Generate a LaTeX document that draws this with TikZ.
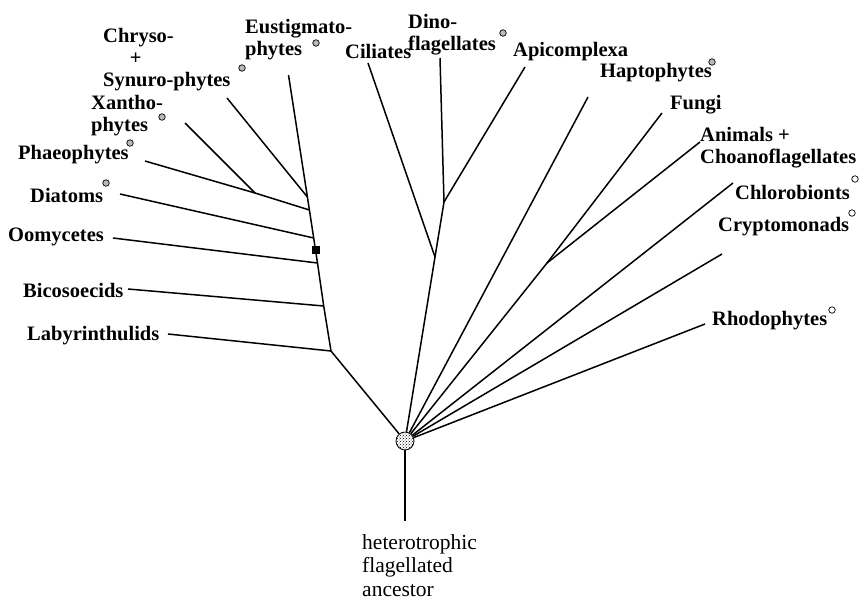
\documentclass[tikz,border=0pt]{standalone}
\usepackage{fontspec}
\setmainfont{Liberation Serif}
\usetikzlibrary{positioning,patterns}

\begin{document}
\begin{tikzpicture}[x=1pt, y=-1pt,
  taxon/.style={font=\bfseries\fontsize{20.5}{22}\selectfont, inner sep=0pt, align=left},
  branch/.style={line width=1.5pt},
  plast/.style={circle, draw, line width=0.7pt, inner sep=0pt, minimum size=6.5pt, fill=gray!55},
  oplast/.style={plast, fill=white}]
  \useasboundingbox (0,0) rectangle (859,605);

  % root and ancestor
  \node[circle, draw, line width=0.8pt, minimum size=18pt, inner sep=0pt,
        pattern=crosshatch dots, pattern color=black] (root) at (405,441) {};
  \coordinate (base) at (405,521);
  \node[font=\fontsize{21.5}{23.5}\selectfont, inner sep=0pt, align=left, anchor=north west]
        (anc) at (362,534) {heterotrophic\\flagellated\\ancestor};

  % junctions
  \coordinate (jlab) at (331,351);
  \coordinate (jbic) at (323.7,306);
  \coordinate (joom) at (317.5,263);
  \coordinate (jsq)  at (315.5,250);
  \coordinate (jdia) at (313.7,238);
  \coordinate (jpha) at (309.4,210);
  \coordinate (jchr) at (307.4,197);
  \coordinate (jxan) at (255,193);
  \coordinate (jcil) at (435,257);
  \coordinate (jdin) at (444,202);
  \coordinate (jfa)  at (547,263);

  % leaf ends
  \coordinate (eus)  at (288.5,75);
  \coordinate (chr)  at (227,98);
  \coordinate (xan)  at (185,123);
  \coordinate (pha)  at (145,161);
  \coordinate (dia)  at (120,194);
  \coordinate (oom)  at (113,238);
  \coordinate (bic)  at (128,289);
  \coordinate (lab)  at (168,334);
  \coordinate (cil)  at (368,63);
  \coordinate (din)  at (440,58);
  \coordinate (api)  at (525,67);
  \coordinate (hap)  at (588,97);
  \coordinate (fun)  at (662,113);
  \coordinate (ani)  at (700,142);
  \coordinate (chl)  at (733,183);
  \coordinate (cry)  at (722,254);
  \coordinate (rho)  at (705,324);

  % labels
  \node[taxon, anchor=north west] (tchr) at (103,28) {Chryso-\\\hspace*{1.3em}+\\Synuro-phytes};
  \node[taxon, anchor=north west] (teus) at (245,19) {Eustigmato-\\phytes};
  \node[taxon, anchor=north west] (txan) at (91,95) {Xantho-\\phytes};
  \node[taxon, anchor=west] (tpha) at (18,155) {Phaeophytes};
  \node[taxon, anchor=west] (tdia) at (30,195) {Diatoms};
  \node[taxon, anchor=west] (toom) at (8,237) {Oomycetes};
  \node[taxon, anchor=west] (tbic) at (23,290) {Bicosoecids};
  \node[taxon, anchor=west] (tlab) at (27,336) {Labyrinthulids};
  \node[taxon, anchor=west] (tcil) at (345,51) {Ciliates};
  \node[taxon, anchor=north west] (tdin) at (408,14) {Dino-\\flagellates};
  \node[taxon, anchor=west] (tapi) at (513,52) {Apicomplexa};
  \node[taxon, anchor=west] (thap) at (600,73) {Haptophytes};
  \node[taxon, anchor=west] (tfun) at (670,105) {Fungi};
  \node[taxon, anchor=north west] (tani) at (700,127) {Animals +\\Choanoflagellates};
  \node[taxon, anchor=west] (tchl) at (735,192) {Chlorobionts};
  \node[taxon, anchor=west] (tcry) at (718,227) {Cryptomonads};
  \node[taxon, anchor=west] (trho) at (712,321) {Rhodophytes};

  % plastid marks
  \node[plast] (mchr) at (242,68) {};
  \node[plast] (meus) at (316,43) {};
  \node[plast] (mxan) at (162,117) {};
  \node[plast] (mpha) at (130,143) {};
  \node[plast] (mdia) at (106,183) {};
  \node[plast] (mdin) at (503,33) {};
  \node[plast] (mhap) at (712,62) {};
  \node[oplast] (mchl) at (855,179) {};
  \node[oplast] (mcry) at (852,213) {};
  \node[oplast] (mrho) at (832,310) {};
  \node[fill, inner sep=0pt, minimum size=8pt] (sq) at (jsq) {};

  % branches
  \draw[branch] (root) -- (base);
  \draw[branch] (root) -- (jlab) -- (jbic) -- (joom) -- (sq) -- (jdia) -- (jpha) -- (jchr) -- (eus);
  \draw[branch] (jlab) -- (lab);
  \draw[branch] (jbic) -- (bic);
  \draw[branch] (joom) -- (oom);
  \draw[branch] (jdia) -- (dia);
  \draw[branch] (jpha) -- (jxan) -- (pha);
  \draw[branch] (jxan) -- (xan);
  \draw[branch] (jchr) -- (chr);
  \draw[branch] (root) -- (jcil) -- (jdin) -- (din);
  \draw[branch] (jcil) -- (cil);
  \draw[branch] (jdin) -- (api);
  \draw[branch] (root) -- (hap);
  \draw[branch] (root) -- (jfa) -- (fun);
  \draw[branch] (jfa) -- (ani);
  \draw[branch] (root) -- (chl);
  \draw[branch] (root) -- (cry);
  \draw[branch] (root) -- (rho);
\end{tikzpicture}
\end{document}
